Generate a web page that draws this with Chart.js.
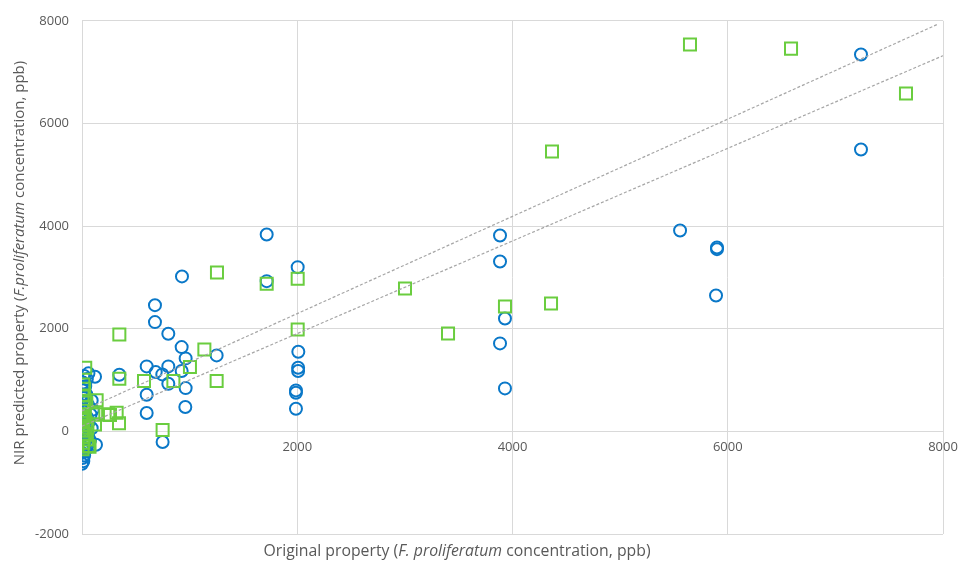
<!DOCTYPE html>
<html>
<head>
<meta charset="utf-8">
<script src="https://cdn.jsdelivr.net/npm/chart.js@4.4.1/dist/chart.umd.min.js"></script>
<style>
html, body { margin: 0; padding: 0; background: #fff; }
#wrap { width: 959px; height: 566px; }
</style>
</head>
<body>
<div id="wrap"><canvas id="myChart--nir"></canvas></div>
<script>
// blue circles (x = original, y = NIR predicted), ppb
var circlePoints = [
    [0, -630], [12, -580], [5, -520], [20, -470], [0, -420], [30, -380], [10, -330], [50, -280],
    [25, -230], [74, -180], [60, -110], [15, -60], [40, -20], [0, 40], [90, 60], [30, 120],
    [60, 170], [10, 230], [45, 280], [80, 330], [20, 380], [100, 420], [0, 470], [55, 520],
    [30, 560], [90, 600], [15, 650], [40, 720], [5, 800], [30, 880], [10, 950], [45, 1020],
    [20, 1080], [60, 1130], [121, 1065], [130, -260],
    [347, 1103], [601, 1266], [601, 714], [601, 357], [678, 2459], [678, 2129], [685, 1155],
    [746, 1110], [749, -208], [802, 1902], [802, 1266], [802, 929], [926, 1642], [926, 1175],
    [963, 1422], [963, 843], [960, 474], [929, 3019], [1251, 1480], [1716, 3836], [1716, 2927],
    [2004, 3200], [2010, 1552], [2008, 1240], [2008, 1175], [1988, 798], [1988, 753], [1988, 442],
    [3884, 3817], [3884, 3311], [3930, 2200], [3884, 1714], [3930, 837],
    [5557, 3914], [5900, 3583], [5900, 3550], [5891, 2648], [7238, 7342], [7238, 5492]
];

// green squares
var squarePoints = [
    [30, 1240], [12, 915], [20, 830], [5, 700], [40, 560], [12, 480], [0, 400], [12, 331],
    [25, 280], [0, 220], [35, 170], [10, 120], [50, 70], [0, 20], [30, -40], [15, -110],
    [45, -160], [12, -220], [59, -286], [5, -350], [70, -300],
    [136, 604], [121, 136], [105, 331], [136, 331], [244, 331], [260, 317], [322, 364],
    [344, 156], [347, 1026], [347, 1889], [576, 980], [749, 25], [849, 980], [1003, 1253],
    [1137, 1597], [1251, 980], [1254, 3096], [1716, 2876], [2004, 2973], [2004, 1986],
    [3001, 2785], [3401, 1908], [3930, 2434], [4358, 2493], [4367, 5453],
    [5649, 7536], [6588, 7458], [7656, 6582]
];

// dashed fit lines (start and end)
var fitUpper = [[0, 400], [7944, 7926]];
var fitLower = [[0, 100], [8000, 7320]];

var xTicks = [0, 2000, 4000, 6000, 8000];
var yTicks = [-2000, 0, 2000, 4000, 6000, 8000];

var FONT = "'Open Sans', sans-serif";
var TEXT = '#595959';
var GRID = '#D9D9D9';

function toXY(arr) {
    return arr.map(function (p) { return {x: p[0], y: p[1]}; });
}

function drawRich(ctx, parts, size) {
    var total = 0;
    parts.forEach(function (p) {
        ctx.font = (p[1] ? 'italic ' : '') + size + 'px ' + FONT;
        total += ctx.measureText(p[0]).width;
    });
    var x = -total / 2;
    parts.forEach(function (p) {
        ctx.font = (p[1] ? 'italic ' : '') + size + 'px ' + FONT;
        ctx.fillText(p[0], x, 0);
        x += ctx.measureText(p[0]).width;
    });
}

var axisTitles = {
    id: 'axisTitles',
    afterDraw: function (chart) {
        var ctx = chart.ctx;
        ctx.save();
        ctx.fillStyle = TEXT;
        ctx.textBaseline = 'middle';
        ctx.textAlign = 'left';
        ctx.translate(457, 551);
        drawRich(ctx, [['Original property (', false], ['F. proliferatum', true], [' concentration, ppb)', false]], 15.8);
        ctx.restore();

        ctx.save();
        ctx.fillStyle = TEXT;
        ctx.textBaseline = 'middle';
        ctx.textAlign = 'left';
        ctx.translate(20, 263);
        ctx.rotate(-Math.PI / 2);
        drawRich(ctx, [['NIR predicted property (', false], ['F.proliferatum', true], [' concentration, ppb)', false]], 15);
        ctx.restore();
    }
};

var ctx = document.getElementById('myChart--nir').getContext('2d');

var myScatter = new Chart(ctx, {
    type: 'scatter',
    data: {
        datasets: [
            {
                type: 'line',
                data: toXY(fitUpper),
                borderColor: '#A6A6A6',
                borderWidth: 1.2,
                borderDash: [3, 2],
                pointRadius: 0,
                fill: false,
                order: 0
            },
            {
                type: 'line',
                data: toXY(fitLower),
                borderColor: '#A6A6A6',
                borderWidth: 1.2,
                borderDash: [3, 2],
                pointRadius: 0,
                fill: false,
                order: 0
            },
            {
                label: 'circles',
                data: toXY(circlePoints),
                pointStyle: 'circle',
                pointRadius: 6,
                borderWidth: 2,
                borderColor: '#0A78C8',
                backgroundColor: 'rgba(0,0,0,0)',
                order: 2
            },
            {
                label: 'squares',
                data: toXY(squarePoints),
                pointStyle: 'rect',
                pointRadius: 8.5,
                borderWidth: 2,
                borderColor: '#6ACD3F',
                backgroundColor: 'rgba(0,0,0,0)',
                order: 1
            }
        ]
    },
    options: {
        responsive: true,
        maintainAspectRatio: false,
        animation: false,
        layout: { padding: { left: 0, right: 16, top: 20, bottom: 32 } },
        plugins: {
            legend: { display: false },
            tooltip: { enabled: false }
        },
        scales: {
            x: {
                type: 'linear',
                position: { y: 0 },
                min: xTicks[0],
                max: xTicks[xTicks.length - 1],
                afterBuildTicks: function (s) { s.ticks = xTicks.map(function (v) { return {value: v}; }); },
                afterFit: function (s) { s.paddingLeft = 0; s.paddingRight = 0; },
                ticks: {
                    padding: 8,
                    color: TEXT,
                    font: { family: FONT, size: 13 },
                    callback: function (v) { return v === 0 ? '' : v; }
                },
                grid: { color: GRID, drawTicks: false },
                border: { color: GRID }
            },
            y: {
                type: 'linear',
                position: 'left',
                min: yTicks[0],
                max: yTicks[yTicks.length - 1],
                afterBuildTicks: function (s) { s.ticks = yTicks.map(function (v) { return {value: v}; }); },
                afterFit: function (s) { s.width = 82; },
                ticks: {
                    padding: 13,
                    color: TEXT,
                    font: { family: FONT, size: 13 },
                    callback: function (v) { return v; }
                },
                grid: { color: GRID, drawTicks: false },
                border: { color: GRID }
            }
        }
    },
    plugins: [axisTitles]
});
</script>
</body>
</html>
